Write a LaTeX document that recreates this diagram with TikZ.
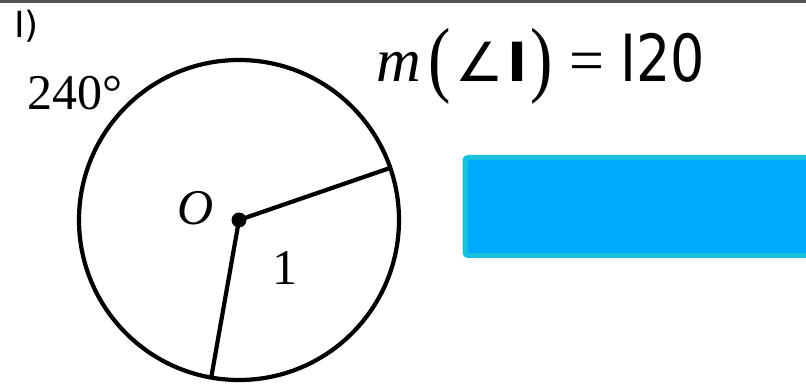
\documentclass[tikz,border=0pt]{standalone}
\usepackage{graphicx}
\usepackage{fontspec}
\setmainfont{Liberation Serif}
\newfontfamily\sansfnt{DejaVu Sans}
\usepackage{tikz}
\usetikzlibrary{calc}
\definecolor{boxblue}{HTML}{00AAFF}
\definecolor{boxrim}{HTML}{18C2DC}
\definecolor{rulegray}{HTML}{555555}

\begin{document}
\begin{tikzpicture}[x=1pt,y=1pt]
\useasboundingbox (0,0) rectangle (806,383);
\fill[rulegray] (0,380) rectangle (806,383);
\coordinate (O) at (239,163);
\coordinate (A) at ($(O)+(19:160)$);
\coordinate (B) at ($(O)+(260:160)$);
\draw[line width=4.2] (O) circle[radius=160];
\draw[line width=4.2] (O) -- (A);
\draw[line width=4.2] (O) -- (B);
\fill (O) circle[radius=7.5];
\node[anchor=base west,inner sep=0] (num) at (14,345) {\sansfnt\fontsize{36}{40}\selectfont I)};
\node[anchor=base west,inner sep=0] (arc) at (27,273) {\fontsize{50}{56}\selectfont 240°};
\node[anchor=base west,inner sep=0] (lblO) at (177,158) {\fontsize{50}{56}\selectfont\itshape O};
\node[anchor=base west,inner sep=0] (lblone) at (272,98) {\fontsize{50}{56}\selectfont 1};
% m(angle I) = I20
\node[anchor=base west,inner sep=0] (eq) at (376,301) {\fontsize{62}{70}\selectfont
  {\itshape m}\hspace{8pt}\raisebox{-5pt}{\fontsize{84}{90}\selectfont\scalebox{0.8}[1]{(}}\hspace{4pt}%
  {\sansfnt\fontsize{54}{60}\selectfont ∠\hspace{4pt}\bfseries I}\hspace{3pt}%
  \raisebox{-5pt}{\fontsize{84}{90}\selectfont\scalebox{0.8}[1]{)}}\hspace{16pt}=\hspace{16pt}%
  {\sansfnt\fontsize{65}{70}\selectfont\scalebox{0.83}[1]{I20}}};
\draw[boxrim,fill=boxblue,line width=5,rounded corners=3] (465,127.5) rectangle (815,225.5);
\end{tikzpicture}
\end{document}
